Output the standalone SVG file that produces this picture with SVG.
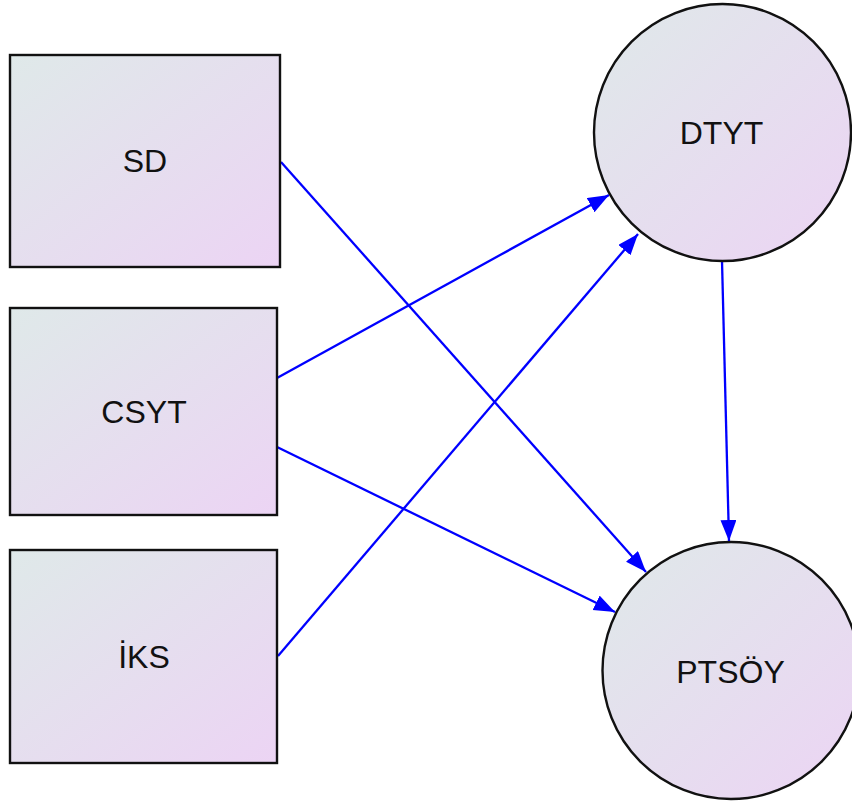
<svg xmlns="http://www.w3.org/2000/svg" width="852" height="803" viewBox="0 0 852 803">
<style>
.node{stroke:#111;stroke-width:2.4}
.lbl{font-family:"Liberation Sans",Arial,sans-serif;font-size:32px;fill:#111;text-anchor:middle}
.edge{stroke:#0000ff;stroke-width:2.3;fill:none;marker-end:url(#arr)}
</style>
<defs>
<linearGradient id="g" x1="0" y1="0" x2="1" y2="1">
<stop offset="0" stop-color="#dfe9e9"/>
<stop offset="1" stop-color="#ecd4f4"/>
</linearGradient>
<marker id="arr" markerUnits="userSpaceOnUse" markerWidth="24" markerHeight="18" refX="21" refY="8" orient="auto">
<path d="M0,0 L21,8 L0,16 z" fill="#0000ff"/>
</marker>
</defs>
<g id="connectors">
<line class="edge" x1="281" y1="162" x2="646" y2="572"/>
<line class="edge" x1="277" y1="378" x2="609" y2="195"/>
<line class="edge" x1="278" y1="656" x2="638" y2="234"/>
<line class="edge" x1="277" y1="447" x2="615" y2="612"/>
<line class="edge" x1="722" y1="261" x2="729" y2="541"/>
</g>
<g id="SD"><rect class="node" x="10" y="55" width="270" height="212" fill="url(#g)"/><text class="lbl" x="145" y="172">SD</text></g>
<g id="CSYT"><rect class="node" x="10" y="308" width="267" height="207" fill="url(#g)"/><text class="lbl" x="144" y="423">CSYT</text></g>
<g id="IKS"><rect class="node" x="10" y="550" width="267" height="213" fill="url(#g)"/><text class="lbl" x="144" y="668">İKS</text></g>
<g id="DTYT"><circle class="node" cx="722.5" cy="132.5" r="128.5" fill="url(#g)"/><text class="lbl" x="721.5" y="144">DTYT</text></g>
<g id="PTSOY"><circle class="node" cx="731" cy="670.5" r="128.5" fill="url(#g)"/><text class="lbl" x="730.5" y="683">PTSÖY</text></g>
</svg>
